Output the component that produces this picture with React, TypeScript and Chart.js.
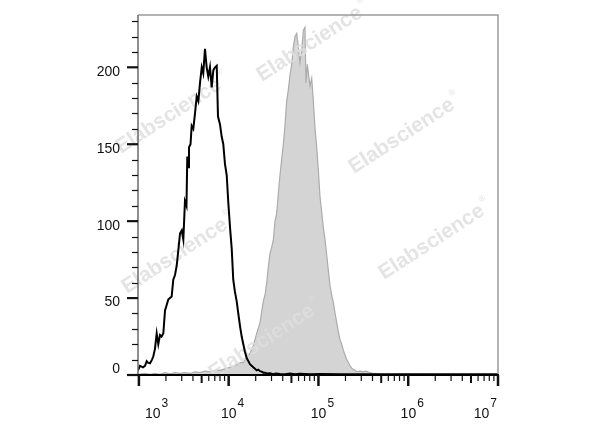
import React, { useEffect, useRef } from "react";
import { Chart, registerables } from "chart.js";

Chart.register(...registerables);

// x values are log10(fluorescence intensity); y values are event counts
const isotypeX = [2.99, 3.012, 3.046, 3.068, 3.087, 3.101, 3.124, 3.146, 3.16, 3.179, 3.198, 3.216, 3.235, 3.252, 3.272, 3.291, 3.307, 3.327, 3.346, 3.365, 3.383, 3.402, 3.421, 3.439, 3.458, 3.477, 3.495, 3.513, 3.53, 3.539, 3.55, 3.558, 3.575, 3.588, 3.606, 3.625, 3.644, 3.662, 3.681, 3.7, 3.717, 3.736, 3.755, 3.773, 3.792, 3.811, 3.829, 3.848, 3.867, 3.881, 3.903, 3.922, 3.94, 3.959, 3.978, 3.996, 4.015, 4.034, 4.051, 4.07, 4.089, 4.107, 4.126, 4.145, 4.163, 4.182, 4.201, 4.219, 4.237, 4.256, 4.274, 4.293, 4.312, 4.33, 4.349, 4.368, 4.386, 4.405, 4.424, 4.461, 4.494, 4.527, 4.572, 4.627, 4.683, 4.739, 4.794, 4.906, 5.017, 5.24, 5.685, 6.131, 6.576, 7.0];
const isotypeY = [3, 6, 5, 6, 9, 8, 7.6, 10, 12, 17, 27, 20, 26, 25, 27, 42, 45, 49, 50, 51, 62, 65, 71, 81, 92, 94, 88, 113, 110, 142, 135, 148, 150, 162, 160, 170, 181, 178, 190, 200, 196, 212, 200, 194, 200, 187, 198, 200, 201, 168, 163, 155, 150, 137, 130, 112, 96, 82, 62, 54, 48, 40, 32, 25, 20, 15, 11, 9, 7, 6, 5, 4, 3, 3.5, 2.5, 2.2, 1.5, 1.5, 1, 1.2, 0.5, 1, 0.6, 0.5, 1, 0.5, 0.8, 0.5, 0.6, 0.5, 0.5, 0.5, 0.5, 0.5];

const stainedX = [2.99, 3.068, 3.124, 3.179, 3.235, 3.291, 3.346, 3.402, 3.458, 3.513, 3.569, 3.625, 3.681, 3.736, 3.792, 3.848, 3.903, 3.959, 4.015, 4.07, 4.126, 4.163, 4.201, 4.237, 4.274, 4.312, 4.349, 4.386, 4.405, 4.424, 4.441, 4.46, 4.479, 4.498, 4.516, 4.535, 4.553, 4.572, 4.59, 4.609, 4.627, 4.646, 4.664, 4.683, 4.702, 4.72, 4.739, 4.758, 4.776, 4.794, 4.813, 4.832, 4.85, 4.861, 4.876, 4.889, 4.906, 4.925, 4.943, 4.962, 4.981, 4.999, 5.017, 5.036, 5.054, 5.073, 5.092, 5.11, 5.129, 5.147, 5.166, 5.185, 5.204, 5.222, 5.24, 5.259, 5.278, 5.296, 5.315, 5.334, 5.352, 5.371, 5.39, 5.408, 5.427, 5.464, 5.497, 5.53, 5.575, 5.608, 5.686, 5.797, 5.908, 6.242, 6.577, 7.0];
const stainedY = [0.5, 1, 0.5, 1, 0.5, 1.5, 0.8, 1.5, 1, 1.5, 1, 2, 1.5, 2.5, 2, 3, 3, 4, 5, 6, 8, 8, 12, 14, 19, 27, 34, 48, 52, 60, 70, 79, 83, 88, 100, 105, 118, 130, 140, 150, 162, 178, 185, 195, 202, 213, 220, 222, 213, 203, 211, 224, 226, 190, 202, 196, 188, 193, 178, 160, 148, 133, 116, 106, 96, 88, 78, 68, 58, 52, 47, 40, 34, 28, 23, 20, 16, 13, 10, 8, 6, 4.5, 3.5, 3, 2.2, 2.5, 2, 2.5, 1.5, 1, 0.5, 0.3, 0.5, 0.3, 0.3, 0.3];

const yTickValues = [0, 50, 100, 150, 200];
const yTickLabels = ["0", "50", "100", "150", "200"];
const yMinorTicks = [10, 20, 30, 40, 60, 70, 80, 90, 110, 120, 130, 140, 160, 170, 180, 190, 210, 220, 230];
const xDecadeExponents = [3, 4, 5, 6, 7];
const xMinorMultipliers = [2, 3, 4, 5, 6, 7, 8, 9];

const X_MIN = 2.99;
const X_MAX = 7.0;
const Y_MAX = 234;

const FONT = "'Liberation Sans', Arial, Helvetica, sans-serif";

const watermarkSpots = [
  [313, 42],
  [172, 114],
  [405, 134],
  [178, 254],
  [435, 240],
  [265, 340],
];

function drawWatermarks(chart: any) {
  const ctx = chart.ctx as CanvasRenderingContext2D;
  ctx.save();
  ctx.fillStyle = "rgba(222,222,222,0.82)";
  ctx.textBaseline = "middle";
  for (const [cx, cy] of watermarkSpots) {
    ctx.save();
    ctx.translate(cx, cy);
    ctx.rotate((-33 * Math.PI) / 180);
    ctx.font = `bold 21px ${FONT}`;
    const w = ctx.measureText("Elabscience").width;
    ctx.textAlign = "left";
    ctx.fillText("Elabscience", -w / 2 - 4, 0);
    ctx.font = `9px ${FONT}`;
    ctx.fillText("®", w / 2 - 2, -9);
    ctx.restore();
  }
  ctx.restore();
}

const axesPlugin = {
  id: "flowAxes",
  afterDatasetDraw(chart: any, args: any) {
    if (args.index === 1) drawWatermarks(chart);
  },
  afterDraw(chart: any) {
    const ctx = chart.ctx as CanvasRenderingContext2D;
    const { left, right, top, bottom } = chart.chartArea;
    const xs = chart.scales.x;
    const ys = chart.scales.y;
    ctx.save();
    // frame
    ctx.lineCap = "butt";
    ctx.strokeStyle = "#9a9a9a";
    ctx.lineWidth = 1.5;
    ctx.beginPath();
    ctx.moveTo(left, top);
    ctx.lineTo(right, top);
    ctx.lineTo(right, bottom);
    ctx.stroke();
    ctx.strokeStyle = "#6a6a6a";
    ctx.beginPath();
    ctx.moveTo(left, top);
    ctx.lineTo(left, bottom);
    ctx.stroke();
    ctx.strokeStyle = "#000";
    ctx.lineWidth = 2;
    ctx.beginPath();
    ctx.moveTo(left - 1, bottom);
    ctx.lineTo(right + 1, bottom);
    ctx.stroke();

    // y ticks
    ctx.strokeStyle = "#111";
    for (const v of yMinorTicks) {
      const y = Math.round(ys.getPixelForValue(v)) + 0.5;
      ctx.lineWidth = 1.2;
      ctx.beginPath();
      ctx.moveTo(left - 6, y);
      ctx.lineTo(left, y);
      ctx.stroke();
    }
    ctx.fillStyle = "#111";
    ctx.font = `14px ${FONT}`;
    ctx.textAlign = "right";
    ctx.textBaseline = "middle";
    yTickValues.forEach((v, i) => {
      const y = ys.getPixelForValue(v);
      ctx.lineWidth = 2.2;
      ctx.beginPath();
      ctx.moveTo(left - 11, y);
      ctx.lineTo(left, y);
      ctx.stroke();
      const ly = Math.min(y + 4.5, bottom - 6);
      ctx.fillText(yTickLabels[i], left - 18, ly);
    });

    // x ticks
    xDecadeExponents.forEach((e, i) => {
      if (i < xDecadeExponents.length - 1) {
        for (const m of xMinorMultipliers) {
          const x = xs.getPixelForValue(e + Math.log10(m));
          ctx.lineWidth = m === 5 ? 2 : 1.2;
          ctx.beginPath();
          ctx.moveTo(x, bottom);
          ctx.lineTo(x, bottom + (m === 5 ? 8 : 6));
          ctx.stroke();
        }
      }
      const x = xs.getPixelForValue(e);
      ctx.lineWidth = 2.5;
      ctx.beginPath();
      ctx.moveTo(x, bottom);
      ctx.lineTo(x, bottom + 11);
      ctx.stroke();
    });

    // x labels: 10 with superscript exponent
    ctx.textAlign = "left";
    ctx.textBaseline = "alphabetic";
    xDecadeExponents.forEach((e) => {
      const x = xs.getPixelForValue(e);
      ctx.font = `14px ${FONT}`;
      const wBase = ctx.measureText("10").width;
      ctx.font = `12px ${FONT}`;
      const wExp = ctx.measureText(String(e)).width;
      const w = wBase + 1 + wExp;
      let lx = x + 4 - w / 2;
      if (lx < left + 7) lx = left + 7;
      if (lx + w > right - 1) lx = right - 1 - w;
      ctx.font = `14px ${FONT}`;
      ctx.fillText("10", lx, 418);
      ctx.font = `12px ${FONT}`;
      ctx.fillText(String(e), lx + wBase + 1, 407);
    });
    ctx.restore();
  },
};

export default function App() {
  const canvasRef = useRef<HTMLCanvasElement | null>(null);

  useEffect(() => {
    document.body.style.margin = "0";
    const canvas = canvasRef.current;
    if (!canvas) return;
    const chart = new Chart(canvas, {
      type: "scatter",
      data: {
        datasets: [
          {
            label: "Isotype control",
            data: isotypeX.map((x, i) => ({ x, y: isotypeY[i] })),
            showLine: true,
            borderColor: "#000",
            borderWidth: 2,
            pointRadius: 0,
            fill: false,
            tension: 0,
          },
          {
            label: "Stained",
            data: stainedX.map((x, i) => ({ x, y: stainedY[i] })),
            showLine: true,
            borderColor: "rgb(172,172,172)",
            backgroundColor: "rgb(212,212,212)",
            borderWidth: 1.2,
            pointRadius: 0,
            fill: "origin",
            tension: 0,
          },
        ],
      },
      options: {
        animation: false,
        responsive: false,
        maintainAspectRatio: false,
        layout: { padding: { left: 138, right: 102, top: 15, bottom: 52 } },
        plugins: { legend: { display: false }, tooltip: { enabled: false } },
        scales: {
          x: { type: "linear", min: X_MIN, max: X_MAX, display: false },
          y: { type: "linear", min: 0, max: Y_MAX, display: false },
        },
      },
      plugins: [axesPlugin],
    });
    return () => chart.destroy();
  }, []);

  return (
    <div style={{ position: "fixed", left: 0, top: 0, width: 600, height: 427, background: "#fff" }}>
      <canvas ref={canvasRef} width={600} height={427} style={{ width: 600, height: 427, display: "block" }} />
    </div>
  );
}
